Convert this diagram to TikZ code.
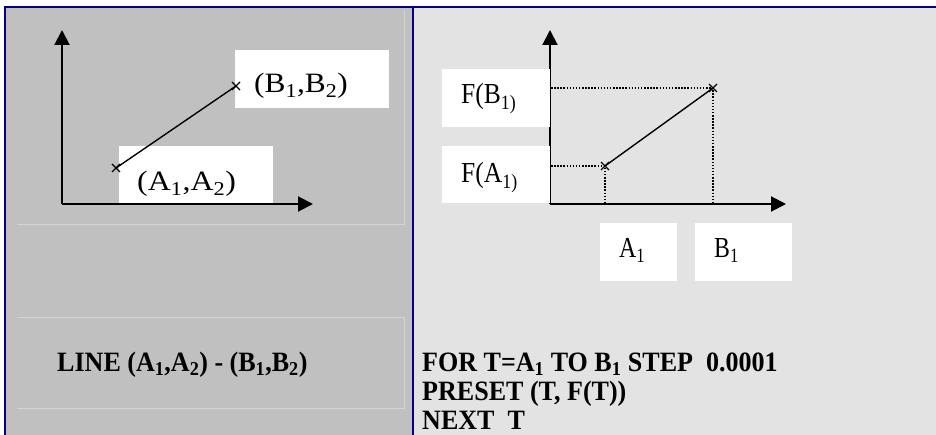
\documentclass[tikz,border=0pt]{standalone}
\usepackage{fontspec}
\setmainfont{Liberation Serif}
\usetikzlibrary{arrows.meta}

\definecolor{framenavy}{RGB}{0,0,128}
\definecolor{panelleft}{RGB}{192,192,192}
\definecolor{panelright}{RGB}{227,227,227}
\definecolor{faintline}{RGB}{212,212,212}

% fonts (sizes in pt, one pt per drawing unit)
\newcommand{\plotfont}{\fontsize{28}{32}\selectfont}
\newcommand{\funcfont}{\fontsize{29}{32}\selectfont}
\newcommand{\axisfont}{\fontsize{29}{32}\selectfont}
\newcommand{\codefont}{\fontsize{28}{30}\selectfont\bfseries}
\newcommand{\sbs}[1]{\textsubscript{#1}}
\newcommand{\codeline}[1]{\scalebox{0.93}[1]{\codefont #1}}

\begin{document}
\begin{tikzpicture}[x=1pt,y=-1pt,
  axisline/.style={line width=2pt,-{Triangle[length=15pt,width=15pt]}},
  segline/.style={line width=1.4pt},
  guideline/.style={line width=1.5pt,dash pattern=on 1.5pt off 1.6pt},
  labelbox/.style={fill=white},
  txt/.style={anchor=base west,inner sep=0pt},
  crossmark/.style={line width=1.2pt}
]
\useasboundingbox (0,0) rectangle (936,435);

% panels
\fill[panelleft]  (5,7) rectangle (413,435);
\fill[panelright] (413,7) rectangle (936,435);

% faint layout guides in the left panel
\draw[faintline,line width=0.8pt] (17,224) -- (404,224) -- (404,10);
\draw[faintline,line width=0.8pt] (17,317) -- (404,317) -- (404,408) -- (17,408);

% frame
\draw[framenavy,line width=2pt] (5,435) -- (5,7) -- (936,7);
\draw[framenavy,line width=2pt] (413,7) -- (413,435);

% ---------- left chart: straight line ----------
\coordinate (o1) at (62,204);
\coordinate (y1) at (62,30);
\coordinate (x1) at (313,204);
\coordinate (p1) at (116,168);
\coordinate (p2) at (236,86);

\fill[labelbox] (235,50) rectangle (389,108);
\fill[labelbox] (119,146) rectangle (273,203);

\draw[axisline] (o1) -- (y1);
\draw[axisline] (o1) -- (x1);
\draw[segline] (p1) -- (p2);
\foreach \p in {p1,p2}
  \draw[crossmark] (\p) +(-4,-4) -- +(4,4) (\p) +(-4,4) -- +(4,-4);

\node[txt] (labB) at (254,93) {\plotfont\scalebox{1.12}[1]{(B\sbs{1},B\sbs{2})}};
\node[txt] (labA) at (137,191) {\plotfont\scalebox{1.14}[1]{(A\sbs{1},A\sbs{2})}};

% ---------- right chart: plotted function ----------
\coordinate (o2) at (550,204);
\coordinate (y2) at (550,30);
\coordinate (x2) at (786,204);
\coordinate (q1) at (605,166);
\coordinate (q2) at (713,88);
\coordinate (q1y) at (551,166);
\coordinate (q2y) at (551,88);
\coordinate (q1x) at (605,203);
\coordinate (q2x) at (713,203);

\draw[axisline] (o2) -- (y2);
\draw[axisline] (o2) -- (x2);

\fill[labelbox] (442,69) rectangle (549.5,127);
\fill[labelbox] (442,146) rectangle (549.5,203);
\fill[labelbox] (600,223) rectangle (677,281);
\fill[labelbox] (695,223) rectangle (792,281);

\draw[guideline] (q1y) -- (q1) -- (q1x);
\draw[guideline] (q2y) -- (q2) -- (q2x);
\draw[segline] (q1) -- (q2);
\foreach \p in {q1,q2}
  \draw[crossmark] (\p) +(-4,-4) -- +(4,4) (\p) +(-4,4) -- +(4,-4);

\node[txt] (labFB) at (461,104) {\funcfont\scalebox{0.88}[1]{F(B\sbs{1)}}};
\node[txt] (labFA) at (461,183) {\funcfont\scalebox{0.88}[1]{F(A\sbs{1)}}};
\node[txt] (labA1) at (619,258) {\axisfont\scalebox{0.82}[1]{A\sbs{1}}};
\node[txt] (labB1) at (714,258) {\axisfont\scalebox{0.82}[1]{B\sbs{1}}};

% ---------- code lines ----------
\node[txt] (codeL)  at (57,371)  {\codeline{LINE (A\sbs{1},A\sbs{2}) - (B\sbs{1},B\sbs{2})}};
\node[txt] (codeR1) at (422,371) {\codeline{FOR T=A\sbs{1} TO B\sbs{1} STEP\ \ 0.0001}};
\node[txt] (codeR2) at (422,400) {\codeline{PRESET (T, F(T))}};
\node[txt] (codeR3) at (422,429) {\codeline{NEXT\ \ T}};
\end{tikzpicture}
\end{document}
